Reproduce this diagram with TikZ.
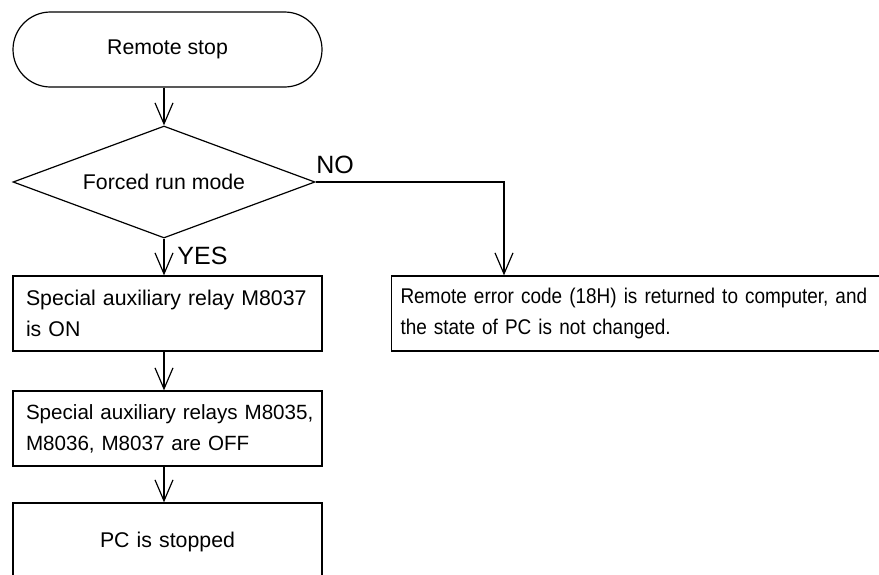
\documentclass[tikz,border=0pt]{standalone}
\usepackage{fontspec}
\setmainfont{Liberation Sans}
\newfontfamily\narrowfont[FakeStretch=0.89]{Liberation Sans}
\usetikzlibrary{shapes.geometric,arrows.meta}

\tikzset{
  flow/.style={draw, line width=0.6pt, inner sep=0pt, font=\fontsize{10.65}{15.5}\selectfont},
  terminal/.style={flow, rectangle, rounded corners=18.75pt, minimum width=154.5pt, minimum height=37.5pt},
  decision/.style={flow, diamond, aspect=2.7, minimum width=151pt, minimum height=56pt},
  process/.style={flow, rectangle, align=left, inner xsep=6.5pt, text width=141.5pt, minimum width=154.5pt, minimum height=37.5pt},
  answer/.style={anchor=base west, inner sep=0pt, font=\fontsize{12.5}{15}\selectfont},
  go/.style={line width=0.6pt, -{Straight Barb[length=10.5pt,width=9pt,line width=0.6pt]}}
}

\begin{document}
\begin{tikzpicture}[x=0.5pt,y=-0.5pt]
  \clip (0,0) rectangle (879,574);

  %% left column
  \node[terminal] (stop) at (167.5,49.5) {Remote stop};
  \node[decision] (mode) at (164,182) {Forced run mode};
  \node[process] (relayon) at (167.5,313.5) {\mbox{Special auxiliary relay M8037}\\ is ON};
  \node[process, font=\fontsize{10.3}{15.5}\selectfont] (relaysoff) at (167.5,428.5)
    {\mbox{Special auxiliary relays M8035,}\\ M8036, M8037 are OFF};
  \node[process, align=center, minimum height=39pt] (stopped) at (167.5,542) {PC is stopped};

  %% right branch
  \node[process, font=\narrowfont\fontsize{10.65}{15.5}\selectfont, inner xsep=4.5pt, text width=240pt, minimum width=249pt] (errcode) at (640.5,313.5)
    {\mbox{Remote error code (18H) is returned to computer, and}\\ the state of PC is not changed.};
  \coordinate (noturn) at (504,0);

  %% answers
  \node[answer] (yes) at (177,264) {YES};
  \node[answer] (no) at (316,173) {NO};

  %% arrows
  \draw[go] (stop.south -| mode.north) -- (mode.north);
  \draw[go] (mode.south) -- (mode.south |- relayon.north);
  \draw[go] (mode.south |- relayon.south) -- (mode.south |- relaysoff.north);
  \draw[go] (mode.south |- relaysoff.south) -- (mode.south |- stopped.north);
  \draw[go] (mode.east) -| (noturn |- errcode.north);
\end{tikzpicture}
\end{document}
